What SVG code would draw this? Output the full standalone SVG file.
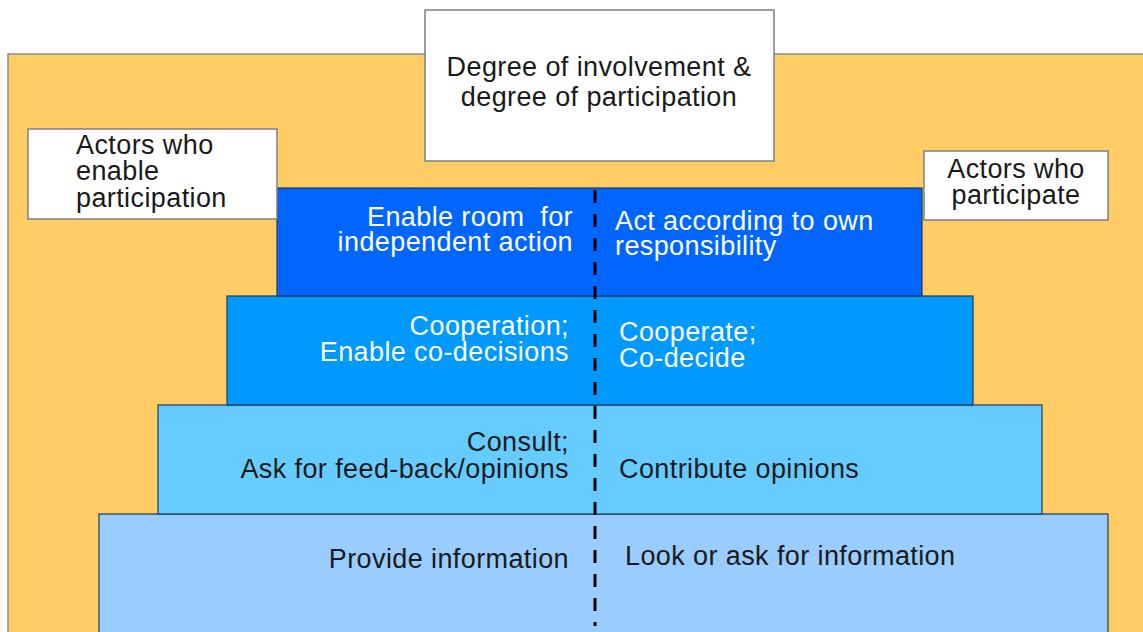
<svg xmlns="http://www.w3.org/2000/svg" width="1143" height="632" viewBox="0 0 1143 632">
  <style>
    text { font-family: "Liberation Sans", Arial, sans-serif; font-size: 27px; letter-spacing: 0.4px; }
    .dark { fill: #1a1a1a; }
    .light { fill: #ffffff; }
    .end { text-anchor: end; }
    .mid { text-anchor: middle; }
    .label { fill: #ffffff; stroke: #7f7f7f; stroke-width: 1.5; }
    .tier { stroke: #1f3a57; stroke-width: 1.2; }
  </style>

  <!-- background panel -->
  <rect id="backdrop" x="8" y="54" width="1150" height="600" fill="#FFCC66" stroke="#8a8a8a" stroke-width="1.5"/>

  <!-- title box -->
  <g id="title">
    <rect class="label" x="425" y="10" width="349" height="151"/>
    <text class="dark mid" x="599" y="76">Degree of involvement &amp;</text>
    <text class="dark mid" x="599" y="106">degree of participation</text>
  </g>

  <!-- stepped levels, bottom to top -->
  <g id="level-inform">
    <rect class="tier" x="99" y="514" width="1009" height="130" fill="#99CCFF"/>
    <text class="dark end" x="569" y="568">Provide information</text>
    <text class="dark" x="625" y="565">Look or ask for information</text>
  </g>

  <g id="level-consult">
    <rect class="tier" x="158" y="405" width="884" height="109" fill="#66CCFF"/>
    <text class="dark end" x="569" y="451">Consult;</text>
    <text class="dark end" x="569" y="478">Ask for feed-back/opinions</text>
    <text class="dark" x="619" y="478">Contribute opinions</text>
  </g>

  <g id="level-cooperate">
    <rect class="tier" x="227" y="296" width="746" height="109" fill="#0099FF"/>
    <text class="light end" x="569" y="335">Cooperation;</text>
    <text class="light end" x="569" y="361">Enable co-decisions</text>
    <text class="light" x="619" y="341">Cooperate;</text>
    <text class="light" x="619" y="367">Co-decide</text>
  </g>

  <g id="level-independent">
    <rect class="tier" x="277" y="188" width="645" height="108" fill="#0066FF"/>
    <text class="light end" x="573" y="226" xml:space="preserve">Enable room  for</text>
    <text class="light end" x="573" y="251">independent action</text>
    <text class="light" x="615" y="230">Act according to own</text>
    <text class="light" x="615" y="255">responsibility</text>
  </g>

  <!-- side labels -->
  <g id="actors-enable">
    <rect class="label" x="28" y="129" width="249" height="90"/>
    <text class="dark" x="76" y="154">Actors who</text>
    <text class="dark" x="76" y="180">enable</text>
    <text class="dark" x="76" y="207">participation</text>
  </g>

  <g id="actors-participate">
    <rect class="label" x="924" y="151" width="184" height="69"/>
    <text class="dark mid" x="1016" y="178">Actors who</text>
    <text class="dark mid" x="1016" y="204">participate</text>
  </g>

  <!-- dashed divider between the two actor sides -->
  <g id="connectors">
    <line x1="595" y1="190" x2="595" y2="626" stroke="#000000" stroke-width="3" stroke-dasharray="13 11"/>
  </g>
</svg>
